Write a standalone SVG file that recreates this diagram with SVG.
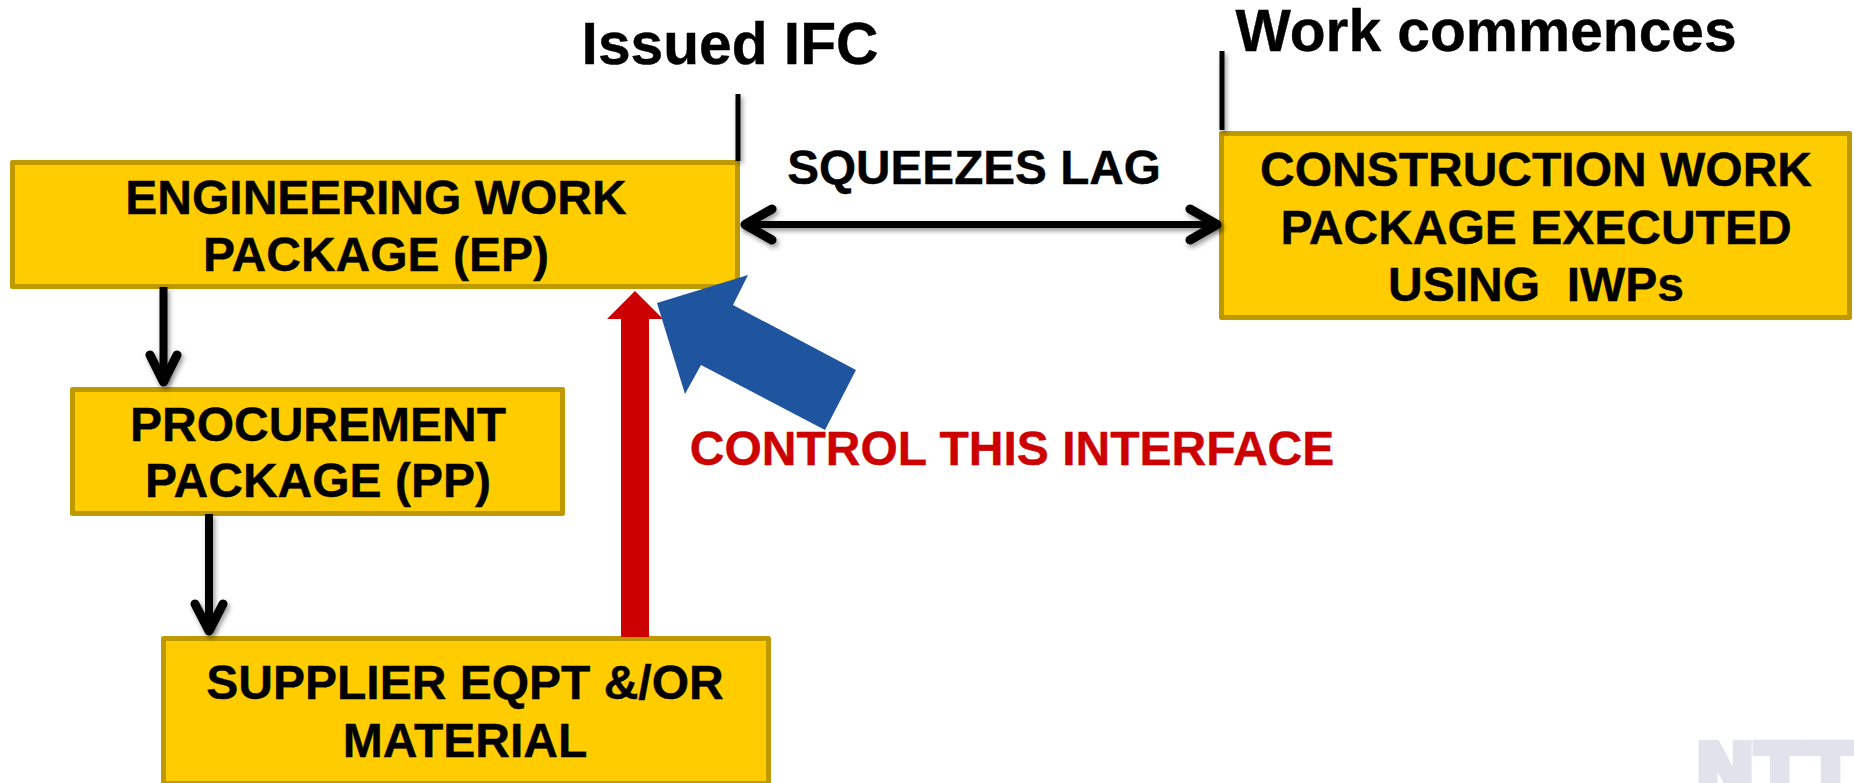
<svg xmlns="http://www.w3.org/2000/svg" width="1854" height="783" viewBox="0 0 1854 783">
<style>
text{font-family:"Liberation Sans",Arial,sans-serif;font-weight:700;text-anchor:middle;fill:#000;stroke:#000;stroke-width:0.4px}
.b{fill:#FFCC00;stroke:#BF9900;stroke-width:5;stroke-linejoin:round}
.t{font-size:48px}
.l{fill:none;stroke:#000;stroke-linejoin:round}
.r{stroke-linecap:round}
</style>
<defs>
<filter id="s" x="0" y="0" width="1854" height="783" filterUnits="userSpaceOnUse"><feDropShadow dx="2" dy="3" stdDeviation="2.500" flood-color="#000" flood-opacity="0.4"/></filter>
</defs>
<rect width="1854" height="783" fill="#fff"/>
<g id="logo"><text x="1775" y="795" style="font-family:'DejaVu Sans',sans-serif;font-size:72px;fill:#E1E2EC;stroke:#E1E2EC;stroke-width:6px;text-anchor:middle">NTT</text></g>
<g id="node-ep"><rect class="b" x="12.500" y="162.500" width="725" height="124"/><text class="t" x="376" y="214">ENGINEERING WORK</text><text class="t" x="376" y="271">PACKAGE (EP)</text></g>
<g id="node-pp"><rect class="b" x="72.500" y="389.500" width="490" height="124"/><text class="t" x="318" y="441">PROCUREMENT</text><text class="t" x="318" y="497">PACKAGE (PP)</text></g>
<g id="node-supplier"><rect class="b" x="163.500" y="638.500" width="605" height="145"/><text class="t" x="465" y="699">SUPPLIER EQPT &amp;/OR</text><text class="t" x="465" y="757">MATERIAL</text></g>
<g id="node-cwp"><rect class="b" x="1221.500" y="133.500" width="628" height="184"/><text class="t" x="1536" y="186">CONSTRUCTION WORK</text><text class="t" x="1536" y="244">PACKAGE EXECUTED</text><text class="t" x="1536" y="301" xml:space="preserve">USING  IWPs</text></g>
<g id="connectors">
<path class="l" filter="url(#s)" stroke-width="5" d="M738 94V161M1222 51V130"/>
<path class="l" filter="url(#s)" stroke-width="8" d="M163.500 287V382M209 514V630"/>
<path class="l r" filter="url(#s)" stroke-width="9" d="M150 355L163.500 382L177 355M195 604L209 631L223 604"/>
<path class="l r" filter="url(#s)" stroke-width="7" d="M745 224.500H1216"/>
<path class="l r" filter="url(#s)" stroke-width="9" d="M772 209L745 224.500L772 240M1190 209L1217 224.500L1190 240"/>
<path id="red-arrow" fill="#CC0000" d="M635 291L663 319H649V637H621V319H607Z"/>
<path id="blue-arrow" fill="#1F559E" d="M657 303L748 275L733 305L856 370L825 430L701 365L685 394Z"/>
</g>
<g id="labels">
<text x="730" y="64" font-size="58.700">Issued IFC</text>
<text x="1486" y="51" font-size="58.700">Work commences</text>
<text x="974" y="184" font-size="47.700">SQUEEZES LAG</text>
<text x="1012" y="465" font-size="48" style="fill:#CC0000;stroke:#CC0000">CONTROL THIS INTERFACE</text>
</g>
</svg>
